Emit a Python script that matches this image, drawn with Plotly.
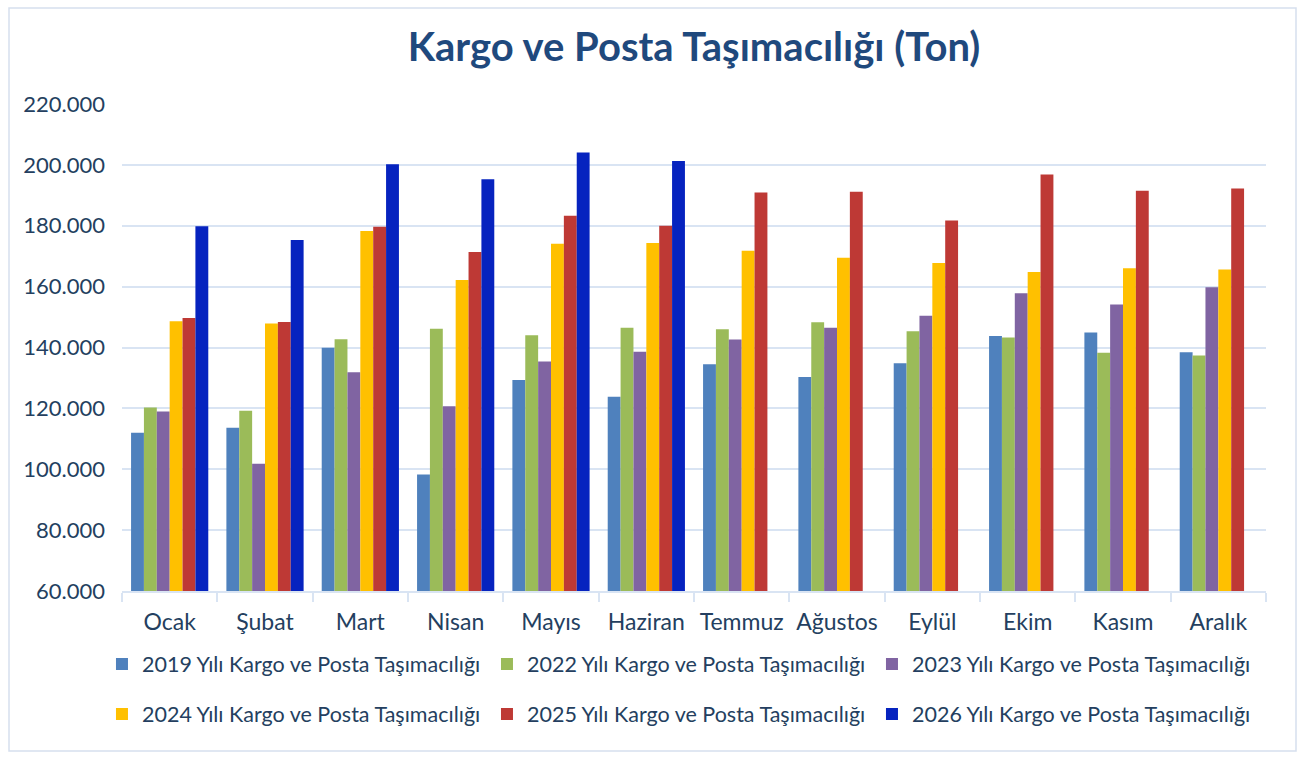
import plotly.graph_objects as go

months = ["Ocak", "Şubat", "Mart", "Nisan", "Mayıs", "Haziran",
          "Temmuz", "Ağustos", "Eylül", "Ekim", "Kasım", "Aralık"]

v2019 = [112000, 113600, 139900, 98300, 129300, 123800, 134500, 130300, 134800, 143800, 144900, 138400]
v2022 = [120300, 119200, 142700, 146200, 144000, 146500, 146000, 148300, 145300, 143300, 138300, 137400]
v2023 = [119000, 101800, 131900, 120700, 135400, 138600, 142600, 146500, 150400, 157800, 154100, 159800]
v2024 = [148600, 147900, 178300, 162200, 174100, 174300, 171800, 169500, 167800, 164800, 166000, 165600]
v2025 = [149700, 148400, 179700, 171400, 183300, 180000, 190900, 191200, 181700, 196800, 191500, 192200]
v2026 = [179800, 175300, 200200, 195300, 204100, 201300, None, None, None, None, None, None]

series_names = ["2019 Yılı Kargo ve Posta Taşımacılığı",
                "2022 Yılı Kargo ve Posta Taşımacılığı",
                "2023 Yılı Kargo ve Posta Taşımacılığı",
                "2024 Yılı Kargo ve Posta Taşımacılığı",
                "2025 Yılı Kargo ve Posta Taşımacılığı",
                "2026 Yılı Kargo ve Posta Taşımacılığı"]
series_values = [v2019, v2022, v2023, v2024, v2025, v2026]
colors = ["#4F81BD", "#9BBB59", "#8064A2", "#FFC000", "#BE3935", "#0623BF"]

FONT = "Lato, 'Open Sans', sans-serif"
TXT = "#243F60"

fig = go.Figure()
for i, (name, vals, col) in enumerate(zip(series_names, series_values, colors)):
    fig.add_trace(go.Bar(
        x=months, y=vals, name=name,
        marker=dict(color=col, line=dict(width=0)),
        legend="legend" if i < 3 else "legend2",
    ))

legend_common = dict(orientation="h", x=-0.0175, xanchor="left", yanchor="middle",
                     entrywidth=340, entrywidthmode="pixels",
                     font=dict(family=FONT, size=21.5, color=TXT), bgcolor="rgba(0,0,0,0)")

fig.update_layout(
    width=1306, height=759,
    paper_bgcolor="white", plot_bgcolor="white",
    separators=",.",
    barmode="group", bargap=0.19, bargroupgap=0,
    margin=dict(l=122, r=40, t=104, b=168),
    title=dict(text="<b>Kargo ve Posta Taşımacılığı (Ton)</b>",
               x=0.5, xanchor="center", xref="paper", y=1 - 47 / 759, yanchor="middle", yref="container",
               font=dict(family=FONT, size=40, color="#1F497D")),
    font=dict(family=FONT, color=TXT),
    legend=dict(legend_common, y=-0.15),
    legend2=dict(legend_common, y=-0.2526),
    shapes=[dict(type="rect", xref="paper", yref="paper",
                 x0=(9 - 122) / 1144, x1=(1296 - 122) / 1144,
                 y0=(591 - 751) / 487, y1=(591 - 8) / 487,
                 line=dict(color="#D6E0EE", width=1.5), fillcolor="rgba(0,0,0,0)", layer="below")],
)

fig.update_yaxes(range=[60000, 220000], dtick=20000, tick0=60000, tickformat=",.0f",
                 showgrid=True, gridcolor="#D9E4F3", gridwidth=2,
                 zeroline=False, showline=False, ticks="",
                 tickfont=dict(family=FONT, size=22, color=TXT), ticklabelstandoff=16)
fig.update_xaxes(showline=True, linecolor="#D9E4F3", linewidth=2, tickangle=0,
                 tickson="boundaries", ticks="outside", ticklen=9, tickcolor="#D9E4F3", tickwidth=2,
                 tickfont=dict(family=FONT, size=23, color=TXT), ticklabelstandoff=9)

fig.write_html("out.html", config={"displayModeBar": False},
               post_script="document.body.style.margin='0';document.body.style.overflow='hidden';")
